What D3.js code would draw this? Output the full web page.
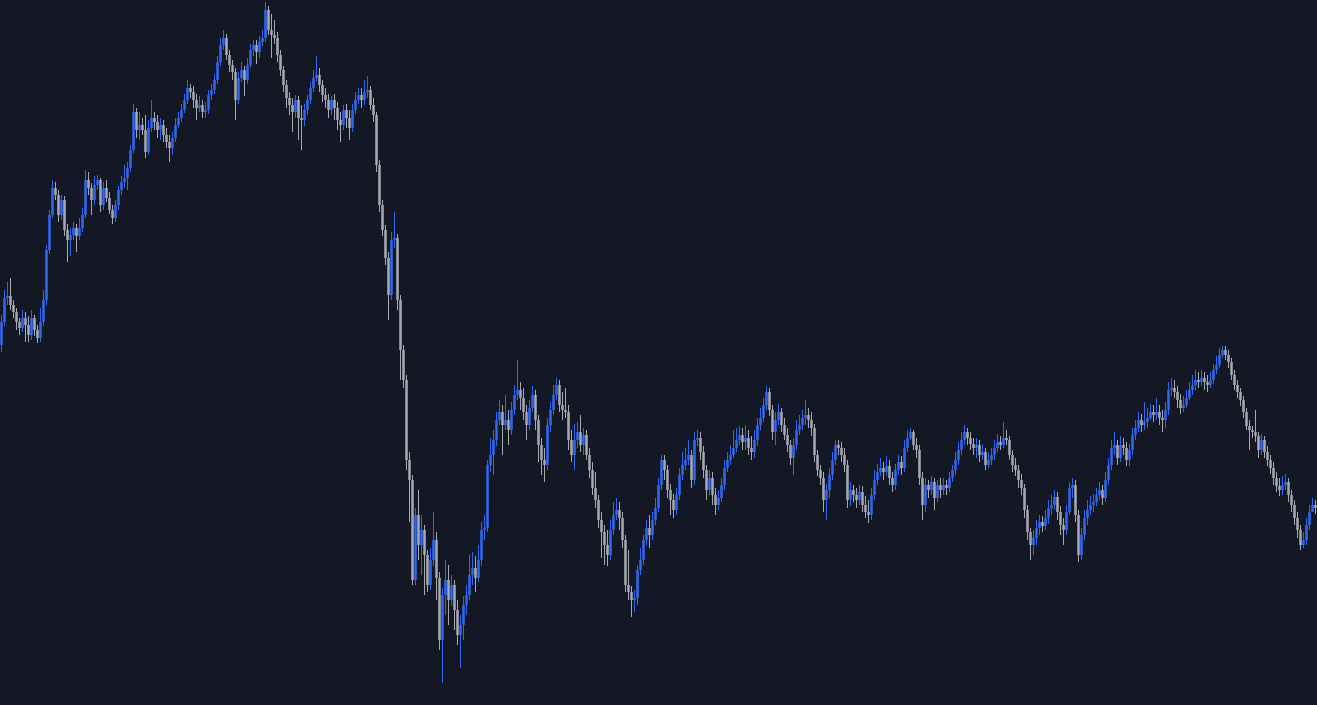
<!DOCTYPE html>
<html>
<head>
<meta charset="utf-8">
<script src="https://cdn.jsdelivr.net/npm/d3@7"></script>
<style>
  html, body { margin: 0; padding: 0; background: #141824; overflow: hidden; }
  svg { display: block; }
</style>
</head>
<body>
<svg id="chart" width="1317" height="705"></svg>
<script>
const firstOpen = 655;
const closes = [678,702,704,695,688,678,672,682,675,665,682,670,662,678,700,750,785,812,805,785,800,770,760,765,772,764,772,785,820,812,800,815,820,795,812,802,790,782,795,810,818,822,832,850,888,870,875,870,848,872,882,878,870,875,865,858,852,862,875,882,890,900,912,908,900,892,895,888,890,905,910,920,938,955,962,945,935,928,900,922,930,920,935,950,955,948,958,962,990,970,965,962,945,930,915,902,895,888,900,882,880,890,900,912,922,925,915,905,900,890,900,892,880,875,890,882,872,890,900,905,900,908,910,895,885,835,795,770,742,705,760,762,700,650,620,540,520,420,485,455,470,445,415,440,460,422,360,405,420,400,415,390,365,375,395,405,425,432,422,440,470,472,535,545,560,580,588,575,580,570,590,605,610,602,588,575,592,605,580,555,540,535,575,590,605,615,595,590,588,560,545,560,568,555,565,545,530,512,500,480,468,455,445,470,485,490,482,460,415,408,400,402,430,440,460,472,465,480,492,515,540,530,510,500,490,505,525,535,540,545,520,560,562,548,530,510,522,505,495,502,515,532,540,545,552,560,565,558,562,552,548,560,575,582,595,608,590,568,580,588,575,565,555,542,555,570,575,582,585,580,572,545,530,522,500,510,525,540,555,552,545,535,500,510,505,500,508,495,488,485,505,520,528,532,528,534,522,515,530,538,532,552,562,568,555,550,522,495,515,510,518,502,515,510,515,512,522,530,540,550,560,568,562,556,552,555,545,548,535,540,545,552,558,555,562,560,545,535,530,520,512,490,468,455,462,472,478,474,482,492,495,503,488,475,470,488,512,515,485,445,465,482,490,495,498,505,510,502,520,535,552,555,542,555,552,540,550,565,572,580,575,578,582,588,585,588,582,580,590,610,612,608,600,592,595,602,610,615,620,618,622,618,615,620,630,635,645,650,645,638,625,615,608,600,588,574,570,568,564,550,560,548,540,532,522,514,510,515,518,505,495,482,470,455,460,475,488,495,492];
const highs = [685,710,718,722,700,692,682,690,688,684,690,685,675,692,710,755,790,820,818,810,805,804,776,772,778,776,782,792,830,828,817,824,825,822,818,820,808,795,800,814,824,835,838,855,896,892,888,882,885,880,900,888,885,882,880,872,865,868,882,888,896,906,920,916,914,906,904,900,898,910,916,926,944,962,970,966,950,940,932,928,938,934,942,956,960,960,964,970,998,994,986,980,968,950,934,920,908,902,905,904,895,896,905,918,930,944,932,920,912,906,904,906,898,888,895,896,890,896,908,912,912,920,924,914,902,888,840,800,775,748,768,788,766,705,655,625,548,525,492,510,485,475,450,452,488,468,428,412,440,435,425,420,400,385,404,415,445,448,444,455,478,485,540,562,570,588,600,595,605,590,598,615,640,618,612,595,600,614,610,585,562,552,582,598,615,622,620,608,612,595,570,576,578,585,572,570,552,538,528,505,488,475,470,480,498,502,498,488,465,450,414,410,435,452,465,480,485,488,502,522,545,545,535,516,506,512,532,548,552,560,550,568,570,568,554,535,530,528,512,510,522,540,548,555,570,572,574,572,575,570,564,570,582,592,602,614,612,595,588,596,592,582,572,560,562,580,585,590,600,592,588,576,550,535,528,516,532,548,560,560,558,552,540,518,515,512,515,514,504,500,512,530,536,542,538,544,540,528,536,545,544,560,570,572,570,562,555,528,522,520,524,522,520,522,522,520,528,535,548,558,568,575,572,568,562,562,560,556,552,548,552,560,566,564,578,570,564,550,542,535,526,516,495,472,470,480,485,484,490,500,505,510,508,494,482,495,518,522,520,490,472,490,500,504,506,512,518,515,528,542,560,568,560,564,562,558,556,572,580,588,586,598,592,596,595,602,595,590,598,618,622,620,614,606,604,610,618,625,630,628,630,628,625,628,636,644,652,654,654,650,642,630,620,612,604,592,580,574,590,568,566,564,554,545,538,528,522,524,526,522,510,500,488,475,468,482,495,502,500];
const lows = [648,674,695,690,682,670,665,668,658,658,660,664,657,658,674,695,746,782,800,778,780,764,738,744,760,748,760,768,782,805,785,795,810,788,790,798,786,776,778,790,805,812,810,828,847,862,860,865,842,845,868,870,862,860,858,852,838,845,858,872,878,887,896,902,892,880,888,882,882,886,900,906,916,934,950,940,928,920,880,896,918,904,916,932,944,936,942,954,958,965,942,956,938,924,908,892,885,868,882,860,850,874,885,896,908,918,908,898,892,882,885,880,870,858,870,872,860,868,886,896,892,895,902,890,878,828,788,764,735,680,700,752,690,620,612,530,478,415,415,440,425,405,408,410,434,400,350,317,385,375,394,370,355,332,360,385,400,415,408,418,434,460,468,528,525,554,575,545,570,555,565,585,600,590,580,560,570,588,570,538,525,518,530,568,585,600,588,580,582,550,538,530,552,548,545,540,522,505,492,472,442,435,434,440,465,480,470,452,408,400,383,388,395,425,435,455,452,460,475,488,510,520,502,485,482,485,500,520,530,535,512,515,554,540,522,500,505,495,485,490,498,510,528,535,542,548,555,550,550,545,540,542,554,570,578,590,584,560,555,575,568,560,548,535,525,550,565,570,575,572,564,538,524,515,488,480,502,520,535,545,538,528,492,494,498,492,495,488,482,477,480,500,515,524,520,524,515,508,510,525,525,528,548,560,550,542,515,480,488,502,505,490,498,502,505,505,508,518,525,535,545,555,555,550,545,542,538,540,530,532,535,540,548,550,552,555,540,528,524,512,505,482,460,440,445,455,465,468,470,476,485,490,480,465,455,465,485,502,478,438,440,460,475,485,488,494,500,495,498,515,530,545,535,538,545,534,534,545,560,568,568,570,572,580,578,580,575,568,572,585,604,602,592,586,588,592,600,605,610,612,614,610,608,612,616,626,632,642,640,632,620,610,602,594,582,570,550,562,558,542,545,542,534,526,515,508,504,505,510,498,488,475,462,450,452,455,470,488,486];

const W = 1317, H = 705;
const svg = d3.select("#chart");
svg.append("rect").attr("width", W).attr("height", H).attr("fill", "#141824");

const candles = closes.map((c, i) => ({
  i,
  open: i === 0 ? firstOpen : closes[i - 1],
  close: c,
  high: highs[i],
  low: lows[i]
}));

const x = d3.scaleBand()
  .domain(candles.map(d => d.i))
  .range([0, W])
  .paddingInner(0.15)
  .paddingOuter(0.075);

const y = d3.scaleLinear().domain([295, 1000]).range([H, 0]);

const UP = "#2e68f2", DOWN = "#a6a9b0";

const g = svg.append("g");
const c = g.selectAll("g.candle").data(candles).join("g").attr("class", "candle");

c.append("line")
  .attr("x1", d => x(d.i) + x.bandwidth() / 2)
  .attr("x2", d => x(d.i) + x.bandwidth() / 2)
  .attr("y1", d => y(d.high))
  .attr("y2", d => y(d.low))
  .attr("stroke", d => d.close >= d.open ? UP : DOWN)
  .attr("stroke-width", 1);

c.append("rect")
  .attr("x", d => x(d.i))
  .attr("width", x.bandwidth())
  .attr("y", d => y(Math.max(d.open, d.close)))
  .attr("height", d => Math.max(1, Math.abs(y(d.open) - y(d.close))))
  .attr("fill", d => d.close >= d.open ? UP : DOWN);
</script>
</body>
</html>
